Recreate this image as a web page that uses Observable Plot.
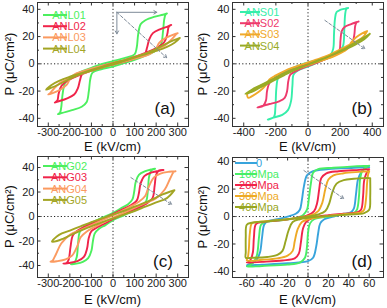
<!DOCTYPE html>
<html><head><meta charset="utf-8">
<script src="https://cdn.jsdelivr.net/npm/d3@7"></script>
<script src="https://cdn.jsdelivr.net/npm/@observablehq/plot@0.6"></script>
<style>
body{margin:0;background:#fff;}
#fig{position:relative;width:387px;height:308px;overflow:hidden;font-family:"Liberation Sans",Arial,sans-serif;}
#fig>div{position:absolute;}
</style></head><body>
<div id="fig"><div id="pa"></div><div id="pb"></div><div id="pc"></div><div id="pd"></div></div>
<script>
// ---------- Panel (a) ----------
const namesA = ["ANL01","ANL02","ANL03","ANL04"];
const colorsA = ["#4cef5e","#f0244a","#fb9a60","#a3a524"];
const ANL01 = [[250,37],[232,36],[190,34.5],[150,32],[128,29],[117,22],[110,12],[100,7],[60,4.5],[0,2],[-50,0],[-100,-3],[-150,-6],[-195,-9.5],[-222,-14],[-235,-24],[-240,-32],[-246,-36],[-255,-37],
  [-235,-36],[-190,-34],[-145,-31.5],[-122,-28],[-112,-20],[-105,-11],[-95,-6.5],[-55,-4],[0,-2],[50,0.5],[100,3],[150,6],[195,9.5],[222,14],[232,24],[237,32],[243,36],[250,37]];
const ANL02 = [[270,28.5],[255,27.5],[220,25.5],[185,22.5],[168,18],[158,12],[148,7.5],[110,4.5],[50,1.5],[0,-0.5],[-50,-2.5],[-100,-5],[-150,-8],[-200,-11.5],[-238,-16],[-252,-22],[-258,-27],[-270,-28.5],
  [-252,-27.5],[-215,-25.5],[-180,-22.5],[-163,-18],[-153,-12],[-143,-7.5],[-105,-4.5],[-50,-1.5],[0,0.5],[50,2.5],[100,5],[150,8],[200,11.5],[238,16],[252,22],[258,27],[270,28.5]];
const ANL03 = [[300,22.5],[280,21.5],[245,19],[215,15.5],[195,10],[170,7],[120,4.5],[50,1.5],[0,-0.5],[-50,-2.5],[-100,-5],[-150,-7.5],[-200,-10.5],[-245,-14],[-275,-18.5],[-295,-22],[-300,-22.5],
  [-280,-21.5],[-245,-19],[-215,-15.5],[-195,-10],[-170,-7],[-120,-4.5],[-50,-1.5],[0,0.5],[50,2.5],[100,5],[150,7.5],[200,10.5],[245,14],[275,18.5],[295,22],[300,22.5]];
const ANL04 = [[310,19],[285,17.5],[250,15],[200,11],[150,7.5],[100,5],[50,2.5],[0,0.5],[-50,-2],[-100,-4.5],[-150,-7],[-200,-9.5],[-250,-12.5],[-285,-15.5],[-310,-19],
  [-285,-17.5],[-250,-15],[-200,-11],[-150,-7.5],[-100,-5],[-50,-2.5],[0,-0.5],[50,2],[100,4.5],[150,7],[200,9.5],[250,12.5],[285,15.5],[310,19]];
const arrowsA = [{x1:18,y1:37.8,x2:203,y2:37.8,dash:false},{x1:18,y1:37.8,x2:18,y2:22,dash:false},{x1:18,y1:37.8,x2:249,y2:4.4,dash:true}];

// ---------- Panel (b) ----------
const namesB = ["ANS01","ANS02","ANS03","ANS04"];
const colorsB = ["#36eeaa","#ee3a6c","#f0a92a","#98ab26"];
const ANS01 = [[250,41],[232,40.5],[200,39.5],[178,38],[168,33],[162,22],[157,11],[140,6.5],[80,3.5],[0,1],[-50,-1],[-100,-3.5],[-150,-6.5],[-185,-10],[-197,-18],[-203,-32],[-212,-39],[-250,-41],
  [-215,-39.5],[-160,-37.5],[-125,-34],[-105,-27],[-97,-16],[-90,-8],[-65,-5],[0,-2],[50,0.5],[100,3],[150,5.5],[195,9],[218,13],[226,25],[231,36],[238,40],[250,41]];
const ANS02 = [[315,31],[300,30.5],[265,29],[228,27],[210,24],[202,17],[196,10],[170,7],[120,4.5],[50,1.5],[0,0],[-50,-2],[-100,-4.5],[-150,-7],[-200,-10],[-240,-14],[-255,-20],[-262,-27],[-280,-31],[-315,-32],
  [-290,-31],[-240,-29.5],[-180,-27.5],[-145,-25],[-130,-20],[-123,-13],[-110,-8],[-50,-4],[0,-1.5],[50,0.5],[100,3],[150,5.5],[200,8.5],[250,12],[278,16],[289,22],[294,28],[303,30.5],[315,31]];
const ANS03 = [[368,24],[340,22.5],[300,19.5],[268,15.5],[245,11],[205,8],[150,5],[100,3],[50,1],[0,-1],[-50,-3],[-100,-5],[-150,-7.5],[-200,-10.5],[-250,-13.5],[-300,-16.5],[-350,-20],[-378,-22],[-372,-25],
  [-345,-23.5],[-300,-20],[-265,-16],[-240,-11.5],[-200,-8.5],[-150,-5.5],[-100,-3],[-50,-1],[0,1],[50,3],[100,5],[150,7.5],[200,10.5],[250,13.5],[300,16.5],[345,20],[368,24]];
const ANS04 = [[385,22],[350,19.5],[300,16],[250,12.5],[200,9.5],[150,6.5],[100,4],[50,1.5],[0,-0.5],[-50,-2.5],[-100,-4.5],[-150,-7],[-200,-10],[-250,-13],[-300,-16],[-350,-19],[-390,-22],
  [-350,-20.5],[-300,-17.5],[-250,-14.5],[-200,-11.5],[-150,-8.5],[-100,-5.5],[-50,-3],[0,-0.5],[50,2],[100,4],[150,6.5],[200,9],[250,11.5],[300,14.5],[350,18],[385,22]];
const arrowsB = [{x1:105,y1:31.9,x2:354,y2:11,dash:true}];

// ---------- Panel (c) ----------
const namesC = ["ANG02","ANG03","ANG04","ANG05"];
const colorsC = ["#4cef5e","#f0244a","#fb9a60","#a3a524"];
const ANG02 = [[195,39],[180,38.5],[150,37],[120,34],[105,28],[98,20],[90,14],[70,10],[40,7],[0,3],[-50,-1],[-100,-5],[-140,-9],[-155,-13],[-162,-22],[-168,-33],[-180,-38],[-195,-39],
  [-170,-38.5],[-140,-37],[-115,-34],[-100,-28],[-93,-20],[-85,-14],[-65,-10],[-35,-7],[0,-3],[50,1],[100,5],[140,9],[155,13],[162,22],[168,33],[180,38],[195,39]];
const ANG03 = [[234,38],[220,37.5],[180,36],[145,33],[128,27],[120,19],[110,13],[80,9],[40,5.5],[0,2],[-50,-2],[-100,-6],[-150,-10],[-185,-15],[-197,-25],[-205,-35],[-215,-38],[-230,-38.5],
  [-205,-38],[-165,-36.5],[-135,-33],[-120,-26],[-113,-18],[-100,-12],[-70,-8.5],[-35,-5.5],[0,-2],[50,2],[100,6],[150,10],[183,15],[193,25],[200,34],[212,37.5],[234,38]];
const ANG04 = [[290,37],[260,36.5],[220,35],[190,32],[165,24],[150,17],[120,12],[80,8],[40,4.5],[0,1],[-50,-3],[-100,-7],[-150,-11],[-200,-15],[-240,-22],[-265,-31],[-280,-36],[-290,-37],
  [-260,-36.5],[-220,-35],[-190,-32],[-165,-24],[-150,-17],[-120,-12],[-80,-8],[-40,-4.5],[0,-1],[50,3],[100,7],[150,11],[200,15],[240,22],[265,31],[280,36],[290,37]];
const ANG05 = [[285,21.5],[260,20],[230,18],[200,15.5],[150,11.5],[100,8],[50,4.5],[0,1.5],[-50,-1.5],[-100,-4.5],[-150,-8],[-200,-11.5],[-250,-15],[-283,-20.5],
  [-260,-20],[-230,-18],[-200,-15.5],[-150,-11.5],[-100,-8],[-50,-4.5],[0,-1.5],[50,1.5],[100,4.5],[150,8],[200,11.5],[250,15],[285,21.5]];
const arrowsC = [{x1:83,y1:31.8,x2:272,y2:9.8,dash:true}];

// ---------- Panel (d) ----------
const namesD = ["0","100Mpa","200Mpa","300Mpa","400Mpa"];
const colorsD = ["#38a4dc","#48ee66","#f0244a","#eeaa26","#98a622"];
const S0 = [[60,36],[45,35.5],[20,34.5],[5,33],[-1,30],[-4,22],[-6,12],[-8,5],[-12,2],[-20,0],[-30,-2],[-40,-3.5],[-43,-6],[-45,-15],[-47,-26],[-50,-31],[-55,-34],[-60,-35.5],
  [-45,-35],[-20,-34],[0,-32.5],[5,-30],[8,-22],[10,-12],[12,-5],[16,-2],[25,0],[35,2],[42,3],[45,6],[47,16],[49,27],[52,32],[56,35],[60,36]];
const S100 = [[60,37],[45,36.5],[25,35.5],[10,34.5],[5,32],[3,25],[1,14],[-1,5],[-5,1],[-15,-1.5],[-30,-3],[-42,-4],[-46,-6],[-48,-15],[-50,-28],[-53,-33],[-57,-35.5],[-60,-36.5],
  [-45,-36],[-20,-35],[-8,-33.5],[-3,-30],[-1,-22],[0,-12],[2,-5],[6,-2],[20,0],[35,1.5],[45,2.5],[48,5],[50,15],[51,27],[53,33],[57,36],[60,37]];
const S200 = [[60,34.5],[50,34],[30,33],[18,31.5],[13,28],[11,20],[9,10],[6,4],[0,1],[-15,-1.5],[-30,-3],[-45,-4],[-51,-5.5],[-53,-15],[-54,-26],[-56,-31],[-58,-33],[-60,-33.5],
  [-45,-33],[-25,-32],[-13,-30.5],[-9,-27],[-7,-19],[-5,-9],[-2,-4],[5,-1],[20,1],[35,2],[48,3],[52,5],[54,15],[55,26],[57,31],[59,33.5],[60,34.5]];
const S300 = [[60,33],[50,32.5],[35,31.5],[25,30],[20,27],[17,20],[14,10],[10,4],[3,1],[-15,-1.5],[-35,-3],[-50,-4],[-55,-5],[-57,-12],[-58,-24],[-59,-30],[-60,-32],
  [-45,-31.5],[-30,-30.5],[-20,-28.5],[-15,-25],[-13,-18],[-10,-9],[-6,-4],[0,-2],[20,0.5],[40,2],[52,3],[55,5],[57,14],[58,25],[59,31],[60,33]];
const S400 = [[61,28],[55,28],[45,27.5],[35,26.5],[28,24],[24,18],[21,10],[17,4],[10,1.5],[0,0],[-20,-2],[-40,-3.5],[-55,-4.5],[-60,-6],[-61,-15],[-61,-26],[-61,-30],
  [-55,-30],[-40,-29.5],[-30,-28],[-25,-25],[-22,-18],[-19,-10],[-15,-4],[-8,-2],[0,-1],[20,0.5],[40,1.5],[55,2.5],[60,5],[61,15],[61,27],[61,28]];
const arrowsD = [{x1:-4,y1:33.5,x2:35,y2:13,dash:true}];

// tick values
const xTicksA = [-300,-200,-100,0,100,200,300];
const xTicksB = [-400,-200,0,200,400];
const xTicksD = [-60,-40,-20,0,20,40,60];
const yTicks = [-40,-20,0,20,40];

const FONT = "'Liberation Sans', Arial, sans-serif";

function panel(cfg){
  const {id,left,top,width,height,margin,xDomain,xTicks,xMinor,yDomain,yMinor,series,names,colors,arrows,legend,label,labelPos,titleY} = cfg;
  const ph = height - margin[0] - margin[2];
  const pw = width - margin[1] - margin[3];
  const tickColor = "#333";
  const marks = [
    Plot.ruleY([0], {y: d=>d, stroke:"#222", strokeDasharray:"1.2,2.2", strokeWidth:1}),
    Plot.ruleX([0], {x: d=>d, stroke:"#222", strokeDasharray:"1.2,2.2", strokeWidth:1}),
  ];
  series.forEach((s,i)=>{
    marks.push(Plot.line(s, {x: d=>d[0], y: d=>d[1], stroke: colors[i], strokeWidth: 1.9, curve: "catmull-rom"}));
  });
  arrows.forEach(a=>{
    marks.push(Plot.arrow([a], {x1:"x1",y1:"y1",x2:"x2",y2:"y2", stroke:"#7d8a98", strokeWidth:1, headLength:5, strokeDasharray: a.dash ? "3,2" : null}));
  });
  marks.push(Plot.ruleX(xTicks, {x:d=>d, insetTop: ph-3.5, stroke: tickColor}));
  marks.push(Plot.ruleX(xTicks, {x:d=>d, insetBottom: ph-3.5, stroke: tickColor}));
  marks.push(Plot.ruleX(xMinor, {x:d=>d, insetTop: ph-2, stroke: tickColor}));
  marks.push(Plot.ruleX(xMinor, {x:d=>d, insetBottom: ph-2, stroke: tickColor}));
  marks.push(Plot.ruleY(yTicks, {y:d=>d, insetRight: pw-3.5, stroke: tickColor}));
  marks.push(Plot.ruleY(yTicks, {y:d=>d, insetLeft: pw-3.5, stroke: tickColor}));
  marks.push(Plot.ruleY(yMinor, {y:d=>d, insetRight: pw-2, stroke: tickColor}));
  marks.push(Plot.ruleY(yMinor, {y:d=>d, insetLeft: pw-2, stroke: tickColor}));
  marks.push(Plot.axisX({ticks: xTicks, tickSize: 0, tickPadding: 2, label: null, fill:"#222", tickFormat: d=>String(d)}));
  marks.push(Plot.axisY({ticks: yTicks, tickSize: 0, tickPadding: 3, label: null, fill:"#222", tickFormat: d=>String(d)}));
  marks.push(Plot.frame({stroke:"#333", strokeWidth:1}));
  const svg = Plot.plot({
    width, height,
    marginTop: margin[0], marginRight: margin[1], marginBottom: margin[2], marginLeft: margin[3],
    x: {domain: xDomain}, y: {domain: yDomain},
    style: {fontSize: "11px", fontFamily: FONT, background: "transparent", overflow: "visible"},
    marks
  });
  const s = d3.select(svg);
  names.forEach((n,i)=>{
    const y = legend.y0 + i*legend.dy;
    s.append("line").attr("x1",legend.x0).attr("x2",legend.x1).attr("y1",y).attr("y2",y)
      .attr("stroke",colors[i]).attr("stroke-width",2);
    s.append("text").attr("x",legend.x1+2).attr("y",y).attr("dy","0.36em")
      .attr("fill",colors[i]).attr("font-size",11).attr("font-family",FONT).text(n);
  });
  s.append("text").attr("x",labelPos[0]).attr("y",labelPos[1]).attr("text-anchor","middle").attr("dy","0.36em")
    .attr("font-size",17).attr("font-family",FONT).attr("fill","#111").text(label);
  const cx = margin[3] + pw/2;
  s.append("text").attr("x",cx).attr("y",titleY).attr("text-anchor","middle").attr("dy","0.36em")
    .attr("font-size",13).attr("font-family",FONT).attr("fill","#111").text("E (kV/cm)");
  const cy = margin[0] + ph/2;
  s.append("text").attr("transform",`translate(9,${cy}) rotate(-90)`).attr("text-anchor","middle").attr("dy","0.36em")
    .attr("font-size",13).attr("font-family",FONT).attr("fill","#111").text("P (μC/cm²)");
  const host = document.getElementById(id);
  host.style.left = left+"px"; host.style.top = top+"px";
  host.appendChild(svg);
}

panel({id:"pa",left:0,top:0,width:193,height:154,margin:[2,5,28,37],xDomain:[-350,350],xTicks:xTicksA,xMinor:[-250,-150,-50,50,150,250],
  yDomain:[-46,45],yMinor:[-30,-10,10,30],series:[ANL01,ANL02,ANL03,ANL04],names:namesA,colors:colorsA,arrows:arrowsA,
  legend:{x0:43,x1:67,y0:15,dy:11.2},label:"(a)",labelPos:[165,108],titleY:146});
panel({id:"pb",left:193,top:0,width:194,height:154,margin:[2,4,28,39],xDomain:[-470,470],xTicks:xTicksB,xMinor:[-300,-100,100,300],
  yDomain:[-46,45],yMinor:[-30,-10,10,30],series:[ANS01,ANS02,ANS03,ANS04],names:namesB,colors:colorsB,arrows:arrowsB,
  legend:{x0:47,x1:67,y0:12,dy:11.2},label:"(b)",labelPos:[169,108],titleY:146});
panel({id:"pc",left:0,top:154,width:193,height:154,margin:[2,5,31,37],xDomain:[-350,350],xTicks:xTicksA,xMinor:[-250,-150,-50,50,150,250],
  yDomain:[-49.8,49],yMinor:[-30,-10,10,30],series:[ANG02,ANG03,ANG04,ANG05],names:namesC,colors:colorsC,arrows:arrowsC,
  legend:{x0:43,x1:67,y0:12,dy:11.3},label:"(c)",labelPos:[163,107],titleY:145});
panel({id:"pd",left:193,top:154,width:194,height:154,margin:[3,4,31,39],xDomain:[-74,74],xTicks:xTicksD,xMinor:[-50,-30,-10,10,30,50],
  yDomain:[-44.4,43],yMinor:[-30,-10,10,30],series:[S0,S100,S200,S300,S400],names:namesD,colors:colorsD,arrows:arrowsD,
  legend:{x0:42,x1:64,y0:9,dy:11},label:"(d)",labelPos:[169,107],titleY:145});
</script>
</body></html>
